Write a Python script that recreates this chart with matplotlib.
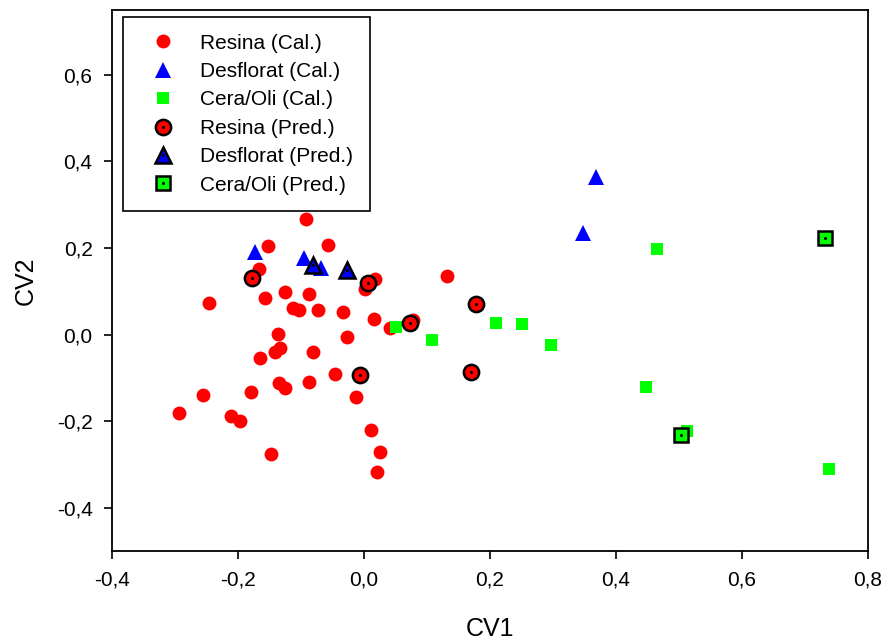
import matplotlib
matplotlib.use("Agg")
import matplotlib.pyplot as plt
from matplotlib.ticker import FuncFormatter, MultipleLocator
from matplotlib.legend_handler import HandlerTuple

plt.rcParams['font.family'] = ['Liberation Sans', 'DejaVu Sans']

# Resina (calibration)
resina_cal_x = [-0.092, -0.152, -0.057, -0.166, 0.018, 0.002, 0.131, -0.246, -0.157, -0.125,
                -0.087, -0.113, -0.103, -0.073, -0.034, 0.016, 0.041, 0.078, -0.137, -0.027,
                -0.133, -0.141, -0.081, -0.165, -0.046, -0.135, -0.125, -0.088, -0.180, -0.256,
                -0.012, -0.294, -0.211, -0.197, 0.011, -0.148, 0.025, 0.021]
resina_cal_y = [0.268, 0.204, 0.208, 0.152, 0.128, 0.106, 0.135, 0.074, 0.085, 0.099,
                0.094, 0.062, 0.056, 0.057, 0.052, 0.035, 0.016, 0.034, 0.002, -0.005,
                -0.030, -0.040, -0.040, -0.054, -0.090, -0.111, -0.123, -0.110, -0.132, -0.139,
                -0.143, -0.181, -0.189, -0.199, -0.220, -0.276, -0.272, -0.317]

# Desflorat (calibration)
desf_cal_x = [-0.173, -0.095, -0.069, 0.368, 0.347]
desf_cal_y = [0.191, 0.178, 0.153, 0.364, 0.234]

# Cera/Oli (calibration)
cera_cal_x = [0.050, 0.108, 0.210, 0.251, 0.296, 0.465, 0.447, 0.512, 0.738]
cera_cal_y = [0.018, -0.012, 0.026, 0.024, -0.025, 0.198, -0.120, -0.222, -0.310]

# Predictions
resina_pred_x = [-0.178, 0.007, 0.073, -0.007, 0.177, 0.170]
resina_pred_y = [0.131, 0.120, 0.027, -0.093, 0.070, -0.087]
desf_pred_x = [-0.081, -0.027]
desf_pred_y = [0.162, 0.149]
cera_pred_x = [0.732, 0.503]
cera_pred_y = [0.223, -0.232]

labels = ["Resina (Cal.)", "Desflorat (Cal.)", "Cera/Oli (Cal.)",
          "Resina (Pred.)", "Desflorat (Pred.)", "Cera/Oli (Pred.)"]

red = '#ff0000'
blue = '#0000ff'
green = '#00ff00'

fig = plt.figure(figsize=(8.87, 6.42), dpi=100)
ax = fig.add_axes([0.1263, 0.1417, 0.8523, 0.8427])

h1, = ax.plot(resina_cal_x, resina_cal_y, 'o', ms=10, color=red, mec=red, mew=0, ls='none')
h2, = ax.plot(desf_cal_x, desf_cal_y, '^', ms=11, color=blue, mec=blue, mew=0, ls='none')
h3, = ax.plot(cera_cal_x, cera_cal_y, 's', ms=9, color=green, mec=green, mew=0, ls='none')

h4, = ax.plot(resina_pred_x, resina_pred_y, 'o', ms=11, color=red, mec='black', mew=1.8, ls='none')
h5, = ax.plot(desf_pred_x, desf_pred_y, '^', ms=11.5, color=blue, mec='black', mew=1.8, ls='none')
h6, = ax.plot(cera_pred_x, cera_pred_y, 's', ms=10, color=green, mec='black', mew=1.8, ls='none')
d4, = ax.plot(resina_pred_x, resina_pred_y, 'o', ms=2.2, color='black', mew=0, ls='none')
d5, = ax.plot(desf_pred_x, desf_pred_y, 'o', ms=2.2, color='black', mew=0, ls='none')
d6, = ax.plot(cera_pred_x, cera_pred_y, 'o', ms=2.2, color='black', mew=0, ls='none')

ax.set_xlim(-0.4, 0.8)
ax.set_ylim(-0.5, 0.75)
ax.xaxis.set_major_locator(MultipleLocator(0.2))
ax.set_yticks([-0.4, -0.2, 0.0, 0.2, 0.4, 0.6])
fmt = FuncFormatter(lambda v, p: f"{v:.1f}".replace('.', ',').replace('-0,0', '0,0'))
ax.xaxis.set_major_formatter(fmt)
ax.yaxis.set_major_formatter(fmt)
ax.tick_params(direction='out', length=6, width=1.2, labelsize=15, top=False, right=False, pad=8)
for s in ax.spines.values():
    s.set_linewidth(1.3)

ax.set_xlabel("CV1", fontsize=18, labelpad=20)
ax.set_ylabel("CV2", fontsize=18, labelpad=14)

leg = ax.legend([h1, h2, h3, (h4, d4), (h5, d5), (h6, d6)], labels,
                handler_map={tuple: HandlerTuple(ndivide=1)},
                loc='upper left', bbox_to_anchor=(0.0146, 0.987),
                fontsize=15, frameon=True, fancybox=False, framealpha=1,
                edgecolor='black', borderpad=0.8, labelspacing=0.45,
                handlelength=2.24, handletextpad=0.66, borderaxespad=0, markerscale=1.0)
leg.get_frame().set_linewidth(1.2)

fig.savefig("out.png", dpi=100)
